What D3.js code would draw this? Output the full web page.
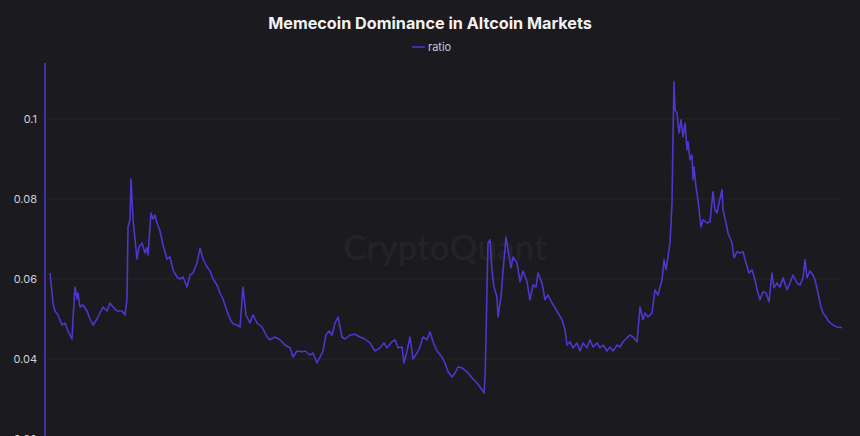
<!DOCTYPE html>
<html>
<head>
<meta charset="utf-8">
<script src="https://cdn.jsdelivr.net/npm/d3@7"></script>
<style>
  html, body { margin: 0; padding: 0; background: #1a1a1f; }
  svg { display: block; }
</style>
</head>
<body>
<svg id="chart" width="860" height="436"></svg>
<script>
const title = "Memecoin Dominance in Altcoin Markets";
const seriesName = "ratio";
const watermark = "CryptoQuant";
const startDate = "2020-09-01";
const yTicks = [0.02, 0.04, 0.06, 0.08, 0.1];

// day offsets from startDate
const dayOffsets = [
  10,16,20,26,34,40,46,54,56,60,64,66,70,76,84,90,96,104,110,116,124,130,136,144,154,160,164,166,170,172,
  176,180,184,188,194,200,204,206,212,216,220,224,230,236,244,250,256,264,270,276,284,290,296,304,310,316,324,330,336,344,
  350,356,364,370,376,384,390,396,402,410,416,424,434,444,450,460,470,480,490,496,504,514,520,530,536,544,550,556,562,568,
  574,580,586,594,600,610,620,630,640,650,660,670,678,684,694,700,706,714,718,724,730,736,744,750,756,764,770,776,784,794,
  800,806,814,820,826,834,844,854,864,874,878,880,882,884,886,890,894,898,904,906,912,916,922,926,932,936,944,950,956,964,
  970,976,982,986,994,1000,1006,1014,1020,1026,1034,1040,1044,1050,1056,1064,1070,1076,1084,1090,1096,1104,1110,1116,1124,1130,1136,1144,1150,1156,
  1164,1170,1176,1184,1190,1196,1200,1206,1214,1220,1226,1234,1238,1242,1246,1250,1254,1256,1258,1260,1264,1268,1272,1276,1280,1284,1286,1290,1294,1296,
  1298,1302,1306,1312,1316,1324,1330,1336,1340,1344,1348,1354,1356,1362,1366,1374,1378,1384,1390,1396,1402,1408,1414,1420,1424,1430,1436,1442,1448,1454,
  1458,1464,1470,1476,1484,1490,1496,1504,1510,1516,1520,1524,1530,1536,1540,1546,1552,1556,1562,1568,1576,1584,1594
];

const ratio = [
  0.0615,0.054,0.052,0.051,0.0485,0.049,0.047,0.045,0.050,0.058,0.055,0.0565,0.053,0.0535,0.052,0.050,0.0485,0.050,0.0515,0.053,0.052,0.054,0.053,0.052,0.052,0.051,0.055,0.073,0.0748,0.085,
  0.075,0.070,0.065,0.068,0.069,0.0665,0.0678,0.066,0.0765,0.075,0.076,0.074,0.072,0.0685,0.065,0.0655,0.0623,0.0605,0.060,0.0605,0.058,0.061,0.0615,0.064,0.0677,0.065,0.063,0.062,0.060,0.0585,
  0.0565,0.055,0.052,0.050,0.0488,0.0485,0.048,0.058,0.051,0.049,0.051,0.049,0.048,0.0455,0.0448,0.0455,0.0448,0.0435,0.0428,0.0405,0.042,0.0418,0.042,0.041,0.0415,0.039,0.0405,0.042,0.046,0.047,
  0.046,0.049,0.0505,0.0455,0.045,0.046,0.0462,0.0455,0.045,0.044,0.042,0.0428,0.044,0.0428,0.0443,0.0448,0.0428,0.043,0.039,0.042,0.0455,0.040,0.0415,0.043,0.0455,0.0448,0.0468,0.0443,0.042,0.0405,
  0.039,0.0368,0.0355,0.0365,0.038,0.0378,0.0368,0.0353,0.034,0.0323,0.0315,0.035,0.045,0.058,0.069,0.0698,0.062,0.058,0.0555,0.0505,0.0555,0.062,0.0705,0.0673,0.0628,0.0655,0.064,0.0593,0.062,0.0593,
  0.0548,0.0585,0.058,0.0615,0.059,0.0548,0.056,0.054,0.0528,0.0515,0.0498,0.0473,0.0435,0.0443,0.0428,0.044,0.042,0.044,0.0428,0.0448,0.043,0.044,0.0428,0.0435,0.042,0.043,0.042,0.0435,0.043,0.0443,
  0.0453,0.046,0.0455,0.0443,0.053,0.0498,0.0515,0.0505,0.0515,0.0573,0.056,0.0598,0.0648,0.0623,0.0655,0.069,0.079,0.0955,0.1093,0.1023,0.1015,0.0965,0.0998,0.0955,0.099,0.0923,0.0943,0.0898,0.091,0.0848,
  0.088,0.083,0.0798,0.073,0.0748,0.074,0.0743,0.0818,0.0773,0.0765,0.079,0.0823,0.0773,0.074,0.0715,0.069,0.0653,0.0668,0.0665,0.0668,0.064,0.0615,0.0623,0.0598,0.0573,0.0548,0.0568,0.0565,0.0543,0.0615,
  0.0578,0.059,0.058,0.0603,0.0573,0.059,0.061,0.059,0.0585,0.0603,0.0648,0.0603,0.062,0.061,0.0598,0.0565,0.053,0.0515,0.0505,0.0493,0.0485,0.048,0.0478
];

const W = 860, H = 436;
const margin = { left: 45, right: 18, top: 63 };
const svg = d3.select("#chart");

const start = new Date(startDate + "T00:00:00Z");
const data = dayOffsets.map((d, i) => ({ date: d3.utcDay.offset(start, d), value: ratio[i] }));

const x = d3.scaleUtc()
  .domain([start, d3.utcDay.offset(start, dayOffsets[dayOffsets.length - 1])])
  .range([margin.left, W - margin.right]);

const y = d3.scaleLinear().domain([0.02, 0.12]).range([439, 39]);

// gridlines
svg.append("g")
  .selectAll("line")
  .data(yTicks)
  .join("line")
  .attr("x1", margin.left)
  .attr("x2", 840)
  .attr("y1", d => y(d))
  .attr("y2", d => y(d))
  .attr("stroke", "#24242a")
  .attr("stroke-width", 1);

// watermark
svg.append("text")
  .attr("x", 445)
  .attr("y", 260)
  .attr("text-anchor", "middle")
  .attr("font-family", "Lato, 'Noto Sans', sans-serif")
  .attr("font-size", 35)
  .attr("font-weight", 600)
  .attr("fill", "#232328")
  .text(watermark);

// y axis
const yAxis = d3.axisLeft(y)
  .tickValues(yTicks)
  .tickFormat(d => d3.format("~g")(d))
  .tickSize(0)
  .tickPadding(8);

const gy = svg.append("g")
  .attr("transform", `translate(${margin.left},0)`)
  .call(yAxis);
gy.select(".domain").remove();
gy.selectAll("text")
  .attr("fill", "#d0d0d4")
  .attr("font-size", 11)
  .attr("font-family", "Inter, 'Noto Sans', sans-serif");

// left purple boundary line
svg.append("line")
  .attr("x1", margin.left).attr("x2", margin.left)
  .attr("y1", margin.top)
  .attr("y2", H)
  .attr("stroke", "#4a36c9")
  .attr("stroke-width", 1.6);

// series line
const line = d3.line()
  .x(d => x(d.date))
  .y(d => y(d.value));

svg.append("path")
  .datum(data)
  .attr("fill", "none")
  .attr("stroke", "#4c37cf")
  .attr("stroke-width", 1.6)
  .attr("stroke-linejoin", "round")
  .attr("d", line);

// title
svg.append("text")
  .attr("x", 430)
  .attr("y", 29)
  .attr("text-anchor", "middle")
  .attr("font-family", "Inter, 'Noto Sans', sans-serif")
  .attr("font-weight", 700)
  .attr("font-size", 16.2)
  .attr("fill", "#f2f2f4")
  .text(title);

// legend
const lg = svg.append("g");
lg.append("line")
  .attr("x1", 412).attr("x2", 425)
  .attr("y1", 47).attr("y2", 47)
  .attr("stroke", "#4c37cf")
  .attr("stroke-width", 1.5);
lg.append("text")
  .attr("x", 428)
  .attr("y", 51)
  .attr("font-family", "Inter, 'Noto Sans', sans-serif")
  .attr("font-size", 11)
  .attr("fill", "#c8c8cc")
  .text(seriesName);
</script>
</body>
</html>
